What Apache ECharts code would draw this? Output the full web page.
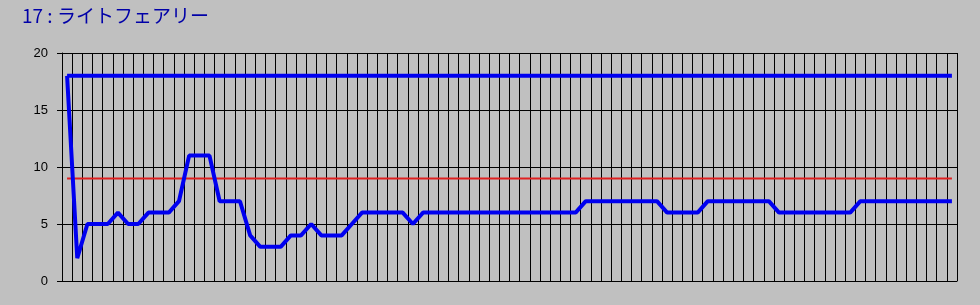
<!DOCTYPE html>
<html>
<head>
<meta charset="utf-8">
<script src="https://cdn.jsdelivr.net/npm/echarts@6/dist/echarts.min.js"></script>
<style>
html,body{margin:0;padding:0;background:#c0c0c0;}
#c{width:980px;height:305px;}
</style>
</head>
<body>
<div id="c"></div>
<script>
const titleText = "17 : ライトフェアリー";
const categories = [1,2,3,4,5,6,7,8,9,10,11,12,13,14,15,16,17,18,19,20,21,22,23,24,25,26,27,28,29,30,31,32,33,34,35,36,37,38,39,40,41,42,43,44,45,46,47,48,49,50,51,52,53,54,55,56,57,58,59,60,61,62,63,64,65,66,67,68,69,70,71,72,73,74,75,76,77,78,79,80,81,82,83,84,85,86,87,88];
const upperValues = [18,18,18,18,18,18,18,18,18,18,18,18,18,18,18,18,18,18,18,18,18,18,18,18,18,18,18,18,18,18,18,18,18,18,18,18,18,18,18,18,18,18,18,18,18,18,18,18,18,18,18,18,18,18,18,18,18,18,18,18,18,18,18,18,18,18,18,18,18,18,18,18,18,18,18,18,18,18,18,18,18,18,18,18,18,18,18,18];
const lowerValues = [18,2,5,5,5,6,5,5,6,6,
  6,7,11,11,11,7,7,7,4,3,
  3,3,4,4,5,4,4,4,5,6,
  6,6,6,6,5,6,6,6,6,6,
  6,6,6,6,6,6,6,6,6,6,
  6,7,7,7,7,7,7,7,7,6,
  6,6,6,7,7,7,7,7,7,7,
  6,6,6,6,6,6,6,6,7,7,
  7,7,7,7,7,7,7,7];
const refValues = [9,9,9,9,9,9,9,9,9,9,9,9,9,9,9,9,9,9,9,9,9,9,9,9,9,9,9,9,9,9,9,9,9,9,9,9,9,9,9,9,9,9,9,9,9,9,9,9,9,9,9,9,9,9,9,9,9,9,9,9,9,9,9,9,9,9,9,9,9,9,9,9,9,9,9,9,9,9,9,9,9,9,9,9,9,9,9,9];
const yTicks = {min:0, max:20, interval:5};

const chart = echarts.init(document.getElementById('c'), null, {renderer:'canvas'});
chart.setOption({
  animation:false,
  backgroundColor:'#c0c0c0',
  title:{
    text:titleText, left:17, top:1,
    textStyle:{color:'#0000a8', fontSize:19, fontWeight:'normal', fontFamily:'"Noto Sans CJK JP", sans-serif'}
  },
  grid:{left:62, right:23, top:53, bottom:24, containLabel:false},
  xAxis:{
    type:'category', data:categories, boundaryGap:true,
    axisLine:{show:true, lineStyle:{color:'#000', width:1}},
    axisTick:{show:false, interval:0},
    axisLabel:{show:false, interval:0},
    splitLine:{show:true, interval:0, lineStyle:{color:'#000', width:1}}
  },
  yAxis:{
    type:'value', min:yTicks.min, max:yTicks.max, interval:yTicks.interval,
    axisLine:{show:true, lineStyle:{color:'#000', width:1}},
    axisTick:{show:true, length:5, lineStyle:{color:'#000'}},
    axisLabel:{color:'#000', fontSize:13, margin:14, fontFamily:'"Liberation Sans", Arial, sans-serif'},
    splitLine:{show:true, lineStyle:{color:'#000', width:1}}
  },
  series:[
    {type:'line', data:refValues, symbol:'none', lineStyle:{color:'#e02020', width:2}, silent:true},
    {type:'line', data:upperValues, symbol:'none', lineStyle:{color:'#0000f0', width:4}, silent:true},
    {type:'line', data:lowerValues, symbol:'none', lineStyle:{color:'#0000f0', width:4}, silent:true}
  ]
});
</script>
</body>
</html>
